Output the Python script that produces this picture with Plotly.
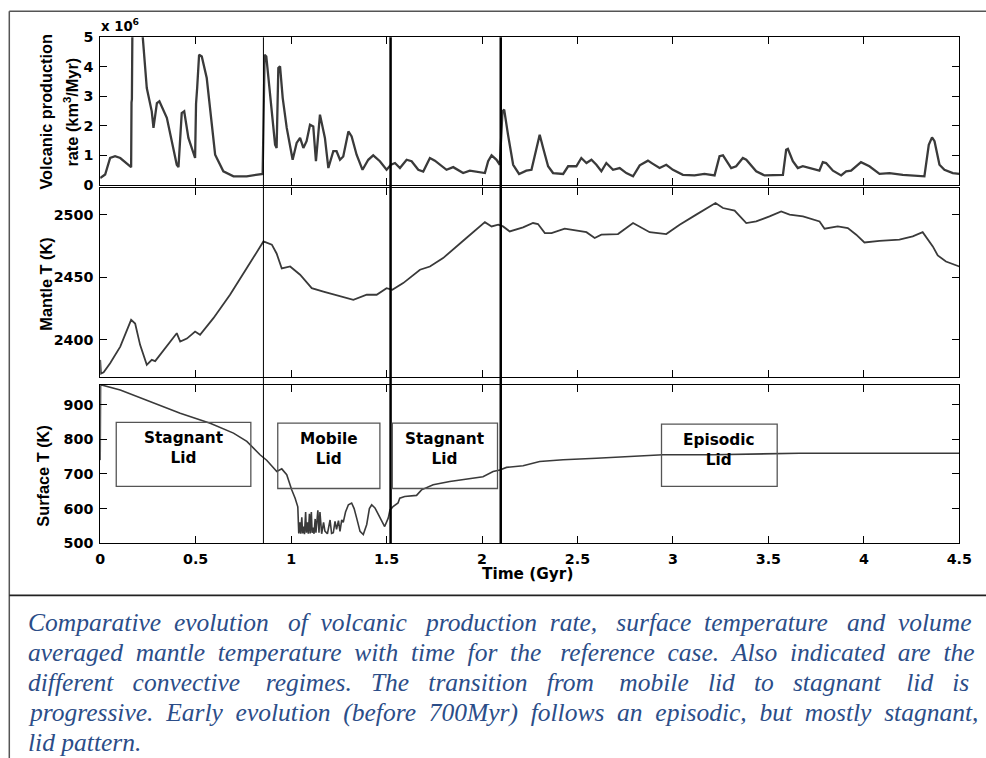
import plotly.graph_objects as go

# ---------------- data ----------------
# Volcanic production rate (x 10^6 km^3/Myr) versus time (Gyr)
vol_time = [0, 0.026, 0.052, 0.078, 0.105, 0.162, 0.164, 0.166, 0.17, 0.2, 0.223, 0.244, 0.27, 0.279,
            0.297, 0.31, 0.349, 0.401, 0.41, 0.427, 0.44, 0.462, 0.497, 0.502, 0.508, 0.518, 0.532,
            0.558, 0.602, 0.645, 0.698, 0.767, 0.851, 0.858, 0.861, 0.87, 0.893, 0.916, 0.924, 0.933,
            0.942, 0.956, 0.977, 1.008, 1.029, 1.047, 1.064, 1.081, 1.099, 1.116, 1.13, 1.151, 1.177,
            1.195, 1.221, 1.238, 1.256, 1.273, 1.3, 1.317, 1.343, 1.374, 1.404, 1.43, 1.465, 1.5,
            1.523, 1.544, 1.57, 1.605, 1.631, 1.666, 1.692, 1.727, 1.753, 1.814, 1.849, 1.901, 1.936,
            2.015, 2.032, 2.05, 2.076, 2.093, 2.107, 2.116, 2.136, 2.163, 2.194, 2.232, 2.259, 2.285,
            2.302, 2.32, 2.346, 2.372, 2.425, 2.451, 2.494, 2.52, 2.547, 2.573, 2.599, 2.625, 2.651,
            2.686, 2.721, 2.756, 2.791, 2.826, 2.869, 2.893, 2.93, 2.965, 3.0, 3.052, 3.113, 3.165,
            3.218, 3.244, 3.262, 3.305, 3.331, 3.366, 3.384, 3.436, 3.48, 3.576, 3.593, 3.602, 3.628,
            3.654, 3.68, 3.767, 3.785, 3.802, 3.838, 3.881, 3.907, 3.933, 3.985, 4.029, 4.082, 4.134,
            4.204, 4.317, 4.34, 4.357, 4.37, 4.396, 4.422, 4.466, 4.5]
vol_rate = [0.23, 0.35, 0.91, 0.97, 0.91, 0.6, 2.8, 2.9, 6.5, 7.0, 5.0, 3.28, 2.49, 1.93,
            2.77, 2.83, 2.27, 0.68, 0.6, 2.43, 2.49, 1.59, 0.91, 2.75, 3.3, 4.41, 4.35,
            3.62, 1.02, 0.46, 0.29, 0.29, 0.37, 2.6, 4.41, 4.35, 2.83, 1.36, 1.25, 3.96,
            4.02, 2.94, 1.93, 0.85, 1.42, 1.59, 1.25, 1.48, 2.04, 1.98, 0.8, 2.38, 1.59,
            0.57, 1.14, 1.14, 0.85, 0.96, 1.81, 1.64, 1.02, 0.51, 0.85, 1.0, 0.8, 0.51,
            0.68, 0.74, 0.57, 0.85, 0.8, 0.51, 0.45, 0.91, 0.82, 0.51, 0.6, 0.4, 0.48,
            0.4, 0.8, 1.0, 0.85, 0.68, 2.49, 2.55, 1.7, 0.68, 0.37, 0.48, 0.51, 1.25,
            1.7, 1.25, 0.63, 0.4, 0.37, 0.63, 0.63, 0.91, 0.74, 0.85, 0.68, 0.46, 0.74,
            0.51, 0.57, 0.4, 0.29, 0.66, 0.82, 0.72, 0.57, 0.68, 0.51, 0.34, 0.32, 0.37,
            0.32, 0.97, 1.0, 0.57, 0.63, 0.91, 0.85, 0.46, 0.32, 0.34, 1.19, 1.22, 0.8,
            0.57, 0.63, 0.48, 0.77, 0.74, 0.48, 0.32, 0.46, 0.48, 0.77, 0.63, 0.37, 0.4,
            0.34, 0.29, 1.36, 1.61, 1.48, 0.68, 0.51, 0.4, 0.37]

# Volume averaged mantle temperature (K)
mantle_time = [0, 0.004, 0.018, 0.052, 0.105, 0.162, 0.183, 0.209, 0.244, 0.27, 0.288, 0.401, 0.419,
               0.454, 0.497, 0.523, 0.593, 0.68, 0.768, 0.855, 0.899, 0.924, 0.951, 0.995, 1.047,
               1.108, 1.169, 1.221, 1.326, 1.396, 1.448, 1.5, 1.53, 1.587, 1.675, 1.727, 1.796,
               1.918, 2.015, 2.05, 2.085, 2.11, 2.145, 2.215, 2.267, 2.293, 2.329, 2.364, 2.433,
               2.547, 2.59, 2.625, 2.712, 2.791, 2.878, 2.965, 3.035, 3.122, 3.223, 3.262, 3.323,
               3.384, 3.436, 3.506, 3.567, 3.611, 3.681, 3.768, 3.794, 3.863, 3.916, 3.96, 4.003,
               4.082, 4.186, 4.256, 4.308, 4.361, 4.387, 4.43, 4.5]
mantle_temp = [2384, 2373, 2374, 2381.3, 2394.6, 2416, 2413, 2396, 2380, 2384, 2383, 2405.3, 2398.6,
               2401, 2406.6, 2404, 2417.3, 2436, 2457.3, 2478.6, 2476, 2469, 2457, 2458.6, 2452,
               2441.3, 2438.6, 2436.5, 2432, 2436, 2436, 2441.3, 2440, 2445.3, 2456, 2458.6, 2465.3,
               2481.3, 2494, 2490.6, 2492, 2490.6, 2486.6, 2489.8, 2493.3, 2492.5, 2485.3, 2485.3, 2488.8,
               2486, 2481.3, 2484, 2484.5, 2493.3, 2486, 2484.5, 2492, 2500, 2509.3, 2505.3, 2503.2,
               2493.3, 2494.6, 2498.6, 2502.6, 2500, 2498.6, 2494.6, 2488.8, 2490.6, 2489.3, 2484, 2477.8,
               2479, 2480, 2482.6, 2486, 2474.6, 2467.4, 2462.6, 2458.6]

# Surface temperature (K)
surf_time = [0, 0.002, 0.105, 0.262, 0.419, 0.576, 0.698, 0.768, 0.837, 0.872, 0.907, 0.925, 0.951,
             0.977, 1.003, 1.021, 1.035, 1.040, 1.046, 1.050, 1.056, 1.060, 1.066, 1.070, 1.076,
             1.080, 1.086, 1.090, 1.096, 1.100, 1.106, 1.110, 1.116, 1.120, 1.126, 1.130, 1.140,
             1.146, 1.151, 1.160, 1.170, 1.177, 1.190, 1.204, 1.212, 1.221, 1.230, 1.238, 1.248,
             1.256, 1.265, 1.273, 1.285, 1.300, 1.317, 1.330, 1.343, 1.361, 1.378, 1.396, 1.410,
             1.422, 1.439, 1.465, 1.490, 1.509, 1.518, 1.525, 1.534, 1.560, 1.569, 1.595, 1.657,
             1.683, 1.744, 1.831, 1.918, 2.005, 2.058, 2.093, 2.128, 2.215, 2.302, 2.425, 2.599,
             2.773, 2.948, 3.21, 3.384, 3.663, 4.5]
surf_temp = [740, 958, 943, 909.5, 875.7, 846.8, 818, 794, 755.5, 739.7, 716.8, 707, 714.7,
             697.7, 654.3, 630, 605, 528, 560, 527, 575, 528, 548, 526, 590,
             530, 560, 527, 585, 528, 590, 530, 545, 527, 570, 530, 595,
             530, 590, 527, 560, 535, 527, 567, 528, 530, 563, 540, 565,
             534, 567, 560, 590, 611, 616, 600, 573, 534, 525, 554, 600,
             611, 602, 573, 548, 573, 597, 600, 606, 616, 630, 635, 638,
             654, 669, 678, 686, 692, 707, 711.5, 719, 723.5, 736, 741, 745.6,
             750.6, 755.5, 755.5, 757.5, 760, 760]

# Regime transitions (Gyr)
transitions = [0.855, 1.521, 2.098]
transition_widths = [1, 2.5, 2.5]

# Convective regimes: label, start/end time (Gyr), lower/upper temperature (K)
regime_labels = ["Stagnant<br>Lid", "Mobile<br>Lid", "Stagnant<br>Lid", "Episodic<br>Lid"]
regime_t0 = [0.084, 0.93, 1.53, 2.94]
regime_t1 = [0.789, 1.465, 2.081, 3.546]
regime_lo = [664, 658, 658, 664]
regime_hi = [849, 847, 847, 844]

x_ticks = [0, 0.5, 1, 1.5, 2, 2.5, 3, 3.5, 4, 4.5]
x_ticktext = ["0", "0.5", "1", "1.5", "2", "2.5", "3", "3.5", "4", "4.5"]
vol_ticks = [0, 1, 2, 3, 4, 5]
mantle_ticks = [2400, 2450, 2500]
surf_ticks = [500, 600, 700, 800, 900]

caption_lines = [
    "Comparative evolution of volcanic production rate, surface temperature and volume",
    "averaged mantle temperature with time for the reference case. Also indicated are the",
    "different convective regimes. The transition from mobile lid to stagnant lid is",
    "progressive. Early evolution (before 700Myr) follows an episodic, but mostly stagnant,",
    "lid pattern.",
]
# extra non-breaking spaces spread over each line's word gaps (justified text)
caption_pad = [13, 13, 25, 10, 0]

# ---------------- figure ----------------
# layout positions below are in page pixels; ORIGIN/SCALE relate them to figure pixels
W, H = 1000, 772
ORIGIN_X, ORIGIN_Y = 4.7, 6.7
SCALE_X, SCALE_Y = 0.983, 0.979
FS = 1.02  # font size factor matching the page scale
LINE = "#3a3a3a"
tick_font = dict(family="DejaVu Sans", size=14 * FS, color="black", weight="bold")
label_font = dict(family="Liberation Sans", size=16 * FS, color="black", weight="bold")


def px(v):
    """page column -> paper fraction"""
    return ((v - ORIGIN_X) / SCALE_X) / W


def py(v):
    """page row -> paper fraction"""
    return 1 - ((v - ORIGIN_Y) / SCALE_Y) / H


def justify(line, pad):
    words = line.split(" ")
    gaps = len(words) - 1
    if gaps == 0 or pad == 0:
        return line
    out = words[0]
    given = 0
    for i in range(gaps):
        target = round(pad * (i + 1) / gaps)
        out += " " + "\u00a0" * (target - given) + words[i + 1]
        given = target
    return out


x_dom = [px(100), px(960)]
dom_top = [py(183.5), py(36)]
dom_mid = [py(376), py(187)]
dom_bot = [py(541.7), py(383.3)]

fig = go.Figure()
fig.add_trace(go.Scatter(x=vol_time, y=vol_rate, mode="lines", xaxis="x3", yaxis="y3",
                         line=dict(color=LINE, width=2.3), showlegend=False))
fig.add_trace(go.Scatter(x=mantle_time, y=mantle_temp, mode="lines", xaxis="x2", yaxis="y2",
                         line=dict(color=LINE, width=1.8), showlegend=False))
fig.add_trace(go.Scatter(x=surf_time, y=surf_temp, mode="lines", xaxis="x", yaxis="y",
                         line=dict(color=LINE, width=1.6), showlegend=False))

common = dict(showline=True, linecolor="black", linewidth=1, mirror="ticks", ticks="inside",
              ticklen=7, tickcolor="black", tickwidth=1, showgrid=False, zeroline=False,
              tickfont=tick_font, ticklabelstandoff=3)

fig.update_layout(
    width=W, height=H,
    margin=dict(l=0, r=0, t=0, b=0),
    paper_bgcolor="white", plot_bgcolor="white",
    xaxis=dict(domain=x_dom, anchor="y", range=[0, 4.5], tickvals=x_ticks, ticktext=x_ticktext,
               **common),
    xaxis2=dict(domain=x_dom, anchor="y2", matches="x", range=[0, 4.5], tickvals=x_ticks,
                showticklabels=False, **common),
    xaxis3=dict(domain=x_dom, anchor="y3", matches="x", range=[0, 4.5], tickvals=x_ticks,
                showticklabels=False, **common),
    yaxis=dict(domain=dom_bot, anchor="x", range=[500, 958], tickvals=surf_ticks, **common),
    yaxis2=dict(domain=dom_mid, anchor="x2", range=[2370, 2521], tickvals=mantle_ticks, **common),
    yaxis3=dict(domain=dom_top, anchor="x3", range=[0, 5], tickvals=vol_ticks, **common),
)

shapes = []
# outer frame and caption divider
shapes.append(dict(type="line", xref="paper", yref="paper", x0=px(9), x1=px(9), y0=0, y1=py(10),
                   line=dict(color="#555555", width=1.5)))
shapes.append(dict(type="line", xref="paper", yref="paper", x0=px(9), x1=1, y0=py(10), y1=py(10),
                   line=dict(color="#555555", width=1.5)))
shapes.append(dict(type="line", xref="paper", yref="paper", x0=px(9), x1=1, y0=py(594), y1=py(594),
                   line=dict(color="#222222", width=1.8)))
# regime transitions spanning all three panels
for t, w in zip(transitions, transition_widths):
    shapes.append(dict(type="line", xref="x", yref="paper", x0=t, x1=t, y0=dom_bot[0], y1=dom_top[1],
                       line=dict(color="black", width=w)))
# regime boxes
for t0, t1, lo, hi in zip(regime_t0, regime_t1, regime_lo, regime_hi):
    shapes.append(dict(type="rect", xref="x", yref="y", x0=t0, x1=t1, y0=lo, y1=hi,
                       line=dict(color="#555555", width=1.3), fillcolor="rgba(0,0,0,0)"))
fig.update_layout(shapes=shapes)

ann = []
for lab, t0, t1, hi in zip(regime_labels, regime_t0, regime_t1, regime_hi):
    ann.append(dict(x=(t0 + t1) / 2, y=hi, xref="x", yref="y", text=lab, showarrow=False,
                    xanchor="center", yanchor="top", yshift=-5,
                    font=dict(family="DejaVu Sans", size=15 * FS, color="black", weight="bold")))


# axis titles
def side_title(x, y, text):
    return dict(x=px(x), y=py(y), xref="paper", yref="paper", text=text, textangle=-90,
                xanchor="center", yanchor="middle", showarrow=False, font=label_font)


ann.append(side_title(46, 110, "Volcanic production"))
ann.append(side_title(71, 111, "rate (km<sup>3</sup>/Myr)"))
ann.append(side_title(46, 283, "Mantle T (K)"))
ann.append(side_title(43, 474, "Surface T (K)"))
ann.append(dict(x=px(528), y=py(573), xref="paper", yref="paper", text="Time (Gyr)",
                xanchor="center", yanchor="middle", showarrow=False,
                font=dict(family="DejaVu Sans", size=15 * FS, color="black", weight="bold")))
ann.append(dict(x=px(99), y=py(24), xref="paper", yref="paper", text="x 10<sup>6</sup>",
                xanchor="left", yanchor="middle", showarrow=False,
                font=dict(family="DejaVu Sans", size=13 * FS, color="black", weight="bold")))

# caption
for i, (line, pad) in enumerate(zip(caption_lines, caption_pad)):
    ann.append(dict(x=px(26), y=py(621 + 30 * i), xref="paper", yref="paper",
                    text="<i>" + justify(line, pad) + "</i>",
                    xanchor="left", yanchor="middle", showarrow=False,
                    font=dict(family="Liberation Serif, Times New Roman, serif", size=25 * FS,
                              color="#2b4d88")))
fig.update_layout(annotations=ann)

fig.write_html("out.html")
